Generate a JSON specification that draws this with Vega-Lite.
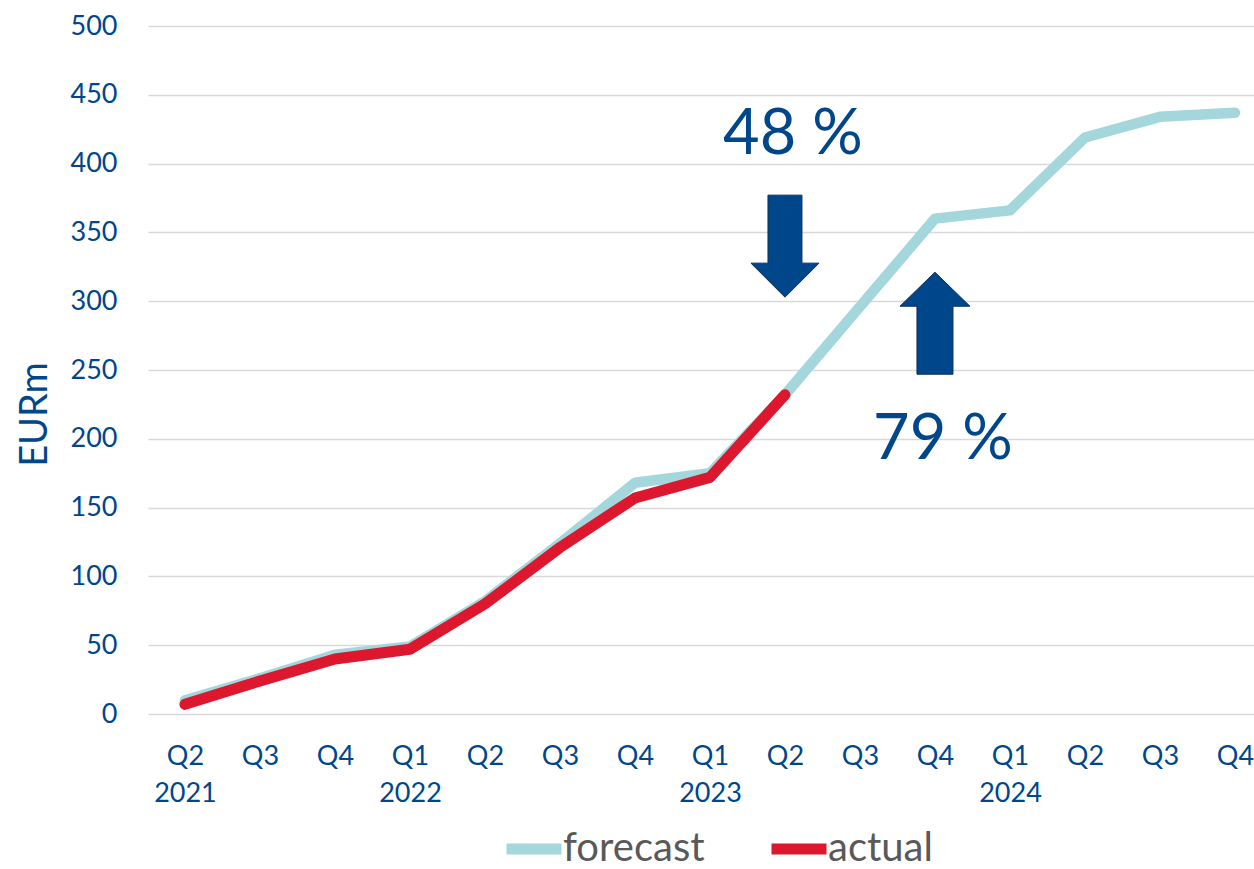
{
  "$schema": "https://vega.github.io/schema/vega-lite/v6.json",
  "width": 1106,
  "height": 688,
  "autosize": {"type": "none"},
  "padding": {"left": 148, "top": 26, "right": 0, "bottom": 155},
  "config": {"view": {"stroke": null}, "font": "Lato", "background": "white"},
  "datasets": {
    "series": [
      {"q": "Q2 2021", "series": "forecast", "value": 10},
      {"q": "Q3 2021", "series": "forecast", "value": 26},
      {"q": "Q4 2021", "series": "forecast", "value": 43},
      {"q": "Q1 2022", "series": "forecast", "value": 49},
      {"q": "Q2 2022", "series": "forecast", "value": 82},
      {"q": "Q3 2022", "series": "forecast", "value": 124},
      {"q": "Q4 2022", "series": "forecast", "value": 168},
      {"q": "Q1 2023", "series": "forecast", "value": 175},
      {"q": "Q2 2023", "series": "forecast", "value": 232},
      {"q": "Q3 2023", "series": "forecast", "value": 296},
      {"q": "Q4 2023", "series": "forecast", "value": 360},
      {"q": "Q1 2024", "series": "forecast", "value": 366},
      {"q": "Q2 2024", "series": "forecast", "value": 419},
      {"q": "Q3 2024", "series": "forecast", "value": 434},
      {"q": "Q4 2024", "series": "forecast", "value": 437},
      {"q": "Q2 2021", "series": "actual", "value": 7},
      {"q": "Q3 2021", "series": "actual", "value": 24},
      {"q": "Q4 2021", "series": "actual", "value": 40},
      {"q": "Q1 2022", "series": "actual", "value": 47},
      {"q": "Q2 2022", "series": "actual", "value": 80},
      {"q": "Q3 2022", "series": "actual", "value": 121},
      {"q": "Q4 2022", "series": "actual", "value": 157},
      {"q": "Q1 2023", "series": "actual", "value": 172},
      {"q": "Q2 2023", "series": "actual", "value": 232}
    ],
    "notes": [
      {"kind": "down", "q": "Q2 2023", "value": 340},
      {"kind": "up", "q": "Q4 2023", "value": 284},
      {"kind": "label", "q": "Q2 2023", "value": 421, "text": "48 %"},
      {"kind": "label", "q": "Q4 2023", "value": 199, "text": "79 %"}
    ]
  },
  "encoding": {
    "x": {
      "field": "q",
      "type": "ordinal",
      "scale": {
        "type": "point",
        "domain": ["Q2 2021", "Q3 2021", "Q4 2021", "Q1 2022", "Q2 2022", "Q3 2022", "Q4 2022", "Q1 2023", "Q2 2023", "Q3 2023", "Q4 2023", "Q1 2024", "Q2 2024", "Q3 2024", "Q4 2024"],
        "padding": 0.3733,
        "align": 0.66
      },
      "axis": {
        "title": null,
        "domain": false,
        "ticks": false,
        "grid": false,
        "labelAngle": 0,
        "labelFontSize": 27,
        "labelColor": "#00468b",
        "labelPadding": 29,
        "labelLineHeight": 37,
        "labelExpr": "(indexof(datum.label, 'Q1') == 0 || datum.label == 'Q2 2021') ? split(datum.label, ' ') : substring(datum.label, 0, 2)"
      }
    },
    "y": {
      "field": "value",
      "type": "quantitative",
      "scale": {"domain": [0, 500], "nice": false},
      "axis": {
        "title": "EURm",
        "titleFontSize": 38,
        "titleFontWeight": "normal",
        "titleColor": "#00468b",
        "titlePadding": 16,
        "titleY": 388,
        "values": [0, 50, 100, 150, 200, 250, 300, 350, 400, 450, 500],
        "domain": false,
        "ticks": false,
        "labelFontSize": 27,
        "labelColor": "#00468b",
        "labelPadding": 31,
        "gridColor": "#d9d9d9",
        "gridWidth": 1.5
      }
    }
  },
  "layer": [
    {
      "data": {"name": "series"},
      "transform": [{"filter": "datum.series == 'forecast'"}],
      "mark": {"type": "line", "strokeWidth": 10.5, "strokeCap": "round", "strokeJoin": "round"},
      "encoding": {
        "color": {
          "field": "series",
          "type": "nominal",
          "scale": {"domain": ["forecast", "actual"], "range": ["#a4d7dc", "#dc172e"]},
          "legend": {
            "orient": "none",
            "legendX": 353,
            "legendY": 790,
            "direction": "horizontal",
            "title": null,
            "symbolType": "stroke",
            "symbolSize": 3025,
            "symbolStrokeWidth": 11,
            "labelFontSize": 40,
            "labelColor": "#595959",
            "labelOffset": -4,
            "columnPadding": 44
          }
        }
      }
    },
    {
      "data": {"name": "series"},
      "transform": [{"filter": "datum.series == 'actual'"}],
      "mark": {"type": "line", "strokeWidth": 11, "strokeCap": "round", "strokeJoin": "round"},
      "encoding": {
        "color": {"field": "series", "type": "nominal"}
      }
    },
    {
      "data": {"name": "notes"},
      "transform": [{"filter": "datum.kind == 'down'"}],
      "mark": {
        "type": "point",
        "shape": "M-0.333,-1L0.333,-1L0.333,0.333L0.667,0.333L0,1L-0.667,0.333L-0.333,0.333Z",
        "filled": true,
        "size": 10404,
        "fill": "#00468b",
        "stroke": "#0b2f5a",
        "strokeWidth": 1,
        "opacity": 1
      }
    },
    {
      "data": {"name": "notes"},
      "transform": [{"filter": "datum.kind == 'up'"}],
      "mark": {
        "type": "point",
        "shape": "M-0.353,1L0.353,1L0.353,-0.333L0.686,-0.333L0,-1L-0.686,-0.333L-0.353,-0.333Z",
        "filled": true,
        "size": 10404,
        "fill": "#00468b",
        "stroke": "#0b2f5a",
        "strokeWidth": 1,
        "opacity": 1
      }
    },
    {
      "data": {"name": "notes"},
      "transform": [{"filter": "datum.kind == 'label'"}],
      "mark": {"type": "text", "fontSize": 63, "color": "#00468b", "dx": 8, "baseline": "middle", "align": "center"},
      "encoding": {"text": {"field": "text"}}
    }
  ]
}
